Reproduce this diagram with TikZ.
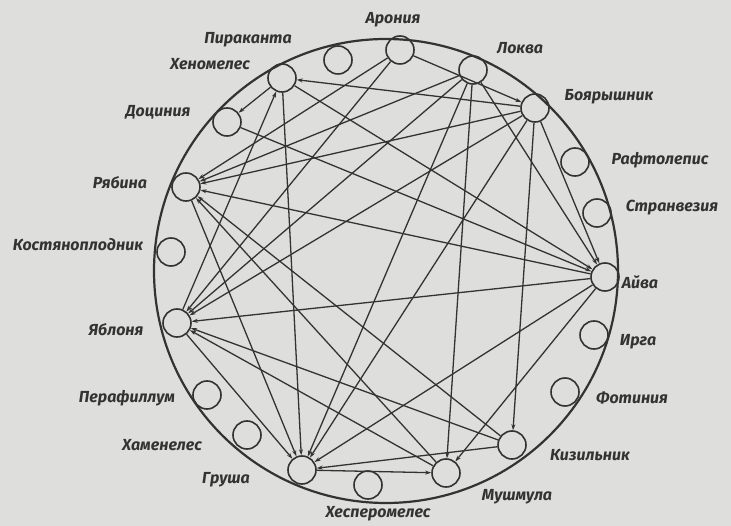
\documentclass[tikz,border=0pt]{standalone}
\usepackage{fontspec}
\setmainfont{Fira Sans}
\usetikzlibrary{arrows.meta}
\definecolor{paper}{HTML}{DEDEDC}
\definecolor{ink}{HTML}{333333}
\tikzset{
  genus/.style={circle, draw=ink, line width=1.6pt, minimum size=28pt, inner sep=0pt},
  genuslabel/.style={text=ink, font=\fontsize{16}{16}\selectfont\bfseries\itshape, inner sep=0pt},
  graft/.style={draw=ink, line width=1.3pt, -{Stealth[length=6pt,width=4pt]}},
}
\begin{document}
\begin{tikzpicture}[x=1pt,y=-1pt]
    \fill[paper] (0,0) rectangle (731,526);
    \useasboundingbox (0,0) rectangle (731,526);

    % outer ring
    \draw[ink, line width=2.2pt] (386,271) circle[radius=232pt];

    % genera
    \node[genus] (aroniya) at (400,50) {};
    \node[genus] (lokva) at (473,70) {};
    \node[genus] (boyar) at (535,108) {};
    \node[genus] (raftolepis) at (575,162) {};
    \node[genus] (stranveziya) at (597,213) {};
    \node[genus] (aiva) at (605,277) {};
    \node[genus] (irga) at (594,335) {};
    \node[genus] (fotiniya) at (565,392) {};
    \node[genus] (kizilnik) at (512,445) {};
    \node[genus] (mushmula) at (446,473) {};
    \node[genus] (hesperomeles) at (368,485) {};
    \node[genus] (grusha) at (302,470) {};
    \node[genus] (hameneles) at (247,435) {};
    \node[genus] (perafillum) at (207,395) {};
    \node[genus] (yablonya) at (177,323) {};
    \node[genus] (kostyanoplodnik) at (171,252) {};
    \node[genus] (ryabina) at (186,187) {};
    \node[genus] (dociniya) at (227,122) {};
    \node[genus] (henomeles) at (282,78) {};
    \node[genus] (pirakanta) at (338,60) {};

    % names
    \node[genuslabel] (l-aroniya) at (393,20) {Арония};
    \node[genuslabel] (l-lokva) at (520,48) {Локва};
    \node[genuslabel] (l-boyar) at (609,97) {Боярышник};
    \node[genuslabel] (l-raftolepis) at (660,160) {Рафтолепис};
    \node[genuslabel] (l-stranveziya) at (672,208) {Странвезия};
    \node[genuslabel] (l-aiva) at (640,282) {Айва};
    \node[genuslabel] (l-irga) at (638,342) {Ирга};
    \node[genuslabel] (l-fotiniya) at (632,398) {Фотиния};
    \node[genuslabel] (l-kizilnik) at (590,455) {Кизильник};
    \node[genuslabel] (l-mushmula) at (517,497) {Мушмула};
    \node[genuslabel] (l-hesperomeles) at (378,514) {Хесперомелес};
    \node[genuslabel] (l-grusha) at (226,480) {Груша};
    \node[genuslabel] (l-hameneles) at (162,445) {Хаменелес};
    \node[genuslabel] (l-perafillum) at (127,398) {Перафиллум};
    \node[genuslabel] (l-yablonya) at (116,330) {Яблоня};
    \node[genuslabel] (l-kostyanoplodnik) at (78,245) {Костяноплодник};
    \node[genuslabel] (l-ryabina) at (120,183) {Рябина};
    \node[genuslabel] (l-dociniya) at (158,112) {Доциния};
    \node[genuslabel] (l-henomeles) at (210,64) {Хеномелес};
    \node[genuslabel] (l-pirakanta) at (248,40) {Пираканта};

    % grafts
    \draw[graft] (boyar) -- (henomeles);
    \draw[graft] (boyar) -- (ryabina);
    \draw[graft] (boyar) -- (yablonya);
    \draw[graft] (boyar) -- (grusha);
    \draw[graft] (boyar) -- (kizilnik);
    \draw[graft] (boyar) -- (aiva);
    \draw[graft] (lokva) -- (mushmula);
    \draw[graft] (lokva) -- (grusha);
    \draw[graft] (lokva) -- (aiva);
    \draw[graft] (lokva) -- (ryabina);
    \draw[graft] (lokva) -- (yablonya);
    \draw[graft] (henomeles) -- (grusha);
    \draw[graft] (henomeles) -- (aiva);
    \draw[graft] (dociniya) -- (aiva);
    \draw[graft] (henomeles) -- (dociniya);
    \draw[graft] (yablonya) -- (henomeles);
    \draw[graft] (aroniya) -- (boyar);
    \draw[graft] (aroniya) -- (yablonya);
    \draw[graft] (aroniya) -- (ryabina);
    \draw[graft] (yablonya) -- (grusha);
    \draw[graft] (ryabina) -- (grusha);
    \draw[graft] (aiva) -- (ryabina);
    \draw[graft] (aiva) -- (yablonya);
    \draw[graft] (kizilnik) -- (yablonya);
    \draw[graft] (mushmula) -- (yablonya);
    \draw[graft] (kizilnik) -- (ryabina);
    \draw[graft] (mushmula) -- (ryabina);
    \draw[graft] (grusha) -- (mushmula);
    \draw[graft] (kizilnik) -- (grusha);
    \draw[graft] (aiva) -- (grusha);
    \draw[graft] (aiva) -- (mushmula);
\end{tikzpicture}
\end{document}
